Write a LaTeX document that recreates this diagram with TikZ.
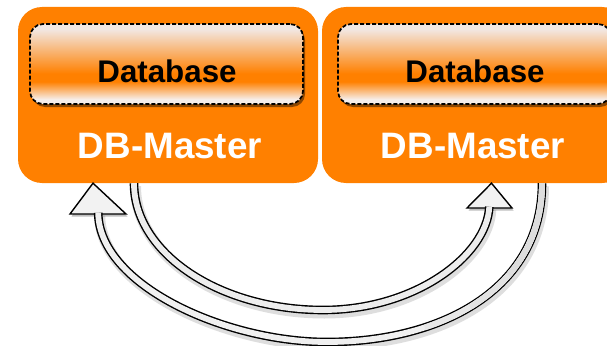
\documentclass[tikz,border=0pt]{standalone}
\usepackage{fontspec}
\setmainfont{Liberation Sans}
\usetikzlibrary{shadows}

\definecolor{mOrange}{RGB}{255,128,0}
\definecolor{dbTop}{RGB}{242,232,228}
\definecolor{dbBottom}{RGB}{246,238,234}

% light - orange band - light, the path spans 25bp..75bp
\pgfdeclareverticalshading{dbshade}{100bp}{color(0bp)=(dbBottom); color(28bp)=(dbBottom); color(39bp)=(mOrange); color(44bp)=(mOrange); color(72bp)=(dbTop); color(100bp)=(dbTop)}

\tikzset{
  masterbox/.style={fill=mOrange, rounded corners=24pt, inner sep=0pt, minimum height=176pt},
  dbbox/.style={shading=dbshade, draw=black, line width=1.7pt, dash pattern=on 4pt off 2pt,
    rounded corners=13pt, inner sep=0pt, minimum height=80pt,
    drop shadow={shadow xshift=2pt, shadow yshift=-3pt, opacity=0.45, fill=black}},
  dbtext/.style={font=\bfseries\fontsize{31.3}{31.3}\selectfont, text=black, inner sep=0pt, anchor=base},
  mastertext/.style={font=\bfseries\fontsize{36.8}{36.8}\selectfont, text=white, inner sep=0pt, anchor=base},
  shaft/.style={draw=black, line width=8.6pt, line cap=butt,
    preaction={draw=black, opacity=0.13, line width=11pt, transform canvas={shift={(1.5pt,-3pt)}}},
    postaction={draw=#1, line width=5.8pt}},
  head/.style={draw=black, fill=gray!10, line width=1.4pt, line join=miter,
    drop shadow={shadow xshift=1.5pt, shadow yshift=-2.5pt, opacity=0.25, fill=black}}
}

\begin{document}
\begin{tikzpicture}[x=1pt, y=-1pt]
\useasboundingbox (0,0) rectangle (607,345);
\clip (0,0) rectangle (607,345);

% the two master servers
\node[masterbox, minimum width=300pt] (m1) at (168,95) {};
\node[masterbox, minimum width=304pt] (m2) at (474,95) {};

% database containers
\node[dbbox, minimum width=273pt] (db1) at (166.5,64) {};
\node[dbbox, minimum width=273pt] (db2) at (474.5,64) {};
\node[dbtext] (t1) at (167,82) {Database};
\node[dbtext] (t2) at (475,82) {Database};

% server labels
\node[mastertext] (l1) at (170,158) {DB-Master};
\node[mastertext] (l2) at (473,158) {DB-Master};

% replication arrow ends
\coordinate (s1) at (m1.south -| 134,0);
\coordinate (s2) at (m2.south -| 542,0);
\coordinate (h1tip) at (m2.south -| 491.5,0);
\coordinate (h1l) at (467,208);
\coordinate (h1r) at (512,208);
\coordinate (e1) at (489.3,206.8);
\coordinate (h2tip) at (m1.south -| 93,0);
\coordinate (h2l) at (70,214);
\coordinate (h2r) at (126,214);
\coordinate (e2) at (98.2,212.8);

% arrow heads
\draw[head] (h1tip) -- (h1r) -- (h1l) -- cycle;
\draw[head] (h2tip) -- (h2r) -- (h2l) -- cycle;

% master 1 -> master 2
\draw[shaft=gray!14] (s1) .. controls (134,253) and (219,310) .. (323,310)
  .. controls (416,310) and (487,255) .. (e1);

% master 2 -> master 1, darker near its start
\draw[shaft=gray!12,
  postaction={draw=gray!18, line width=5.8pt, dash pattern=on 200pt off 2000pt},
  postaction={draw=gray!23, line width=5.8pt, dash pattern=on 150pt off 2000pt},
  postaction={draw=gray!27, line width=5.8pt, dash pattern=on 100pt off 2000pt}]
  (s2) .. controls (542,290) and (440,342) .. (327,342)
  .. controls (225,342) and (99,285) .. (e2);
\end{tikzpicture}
\end{document}
